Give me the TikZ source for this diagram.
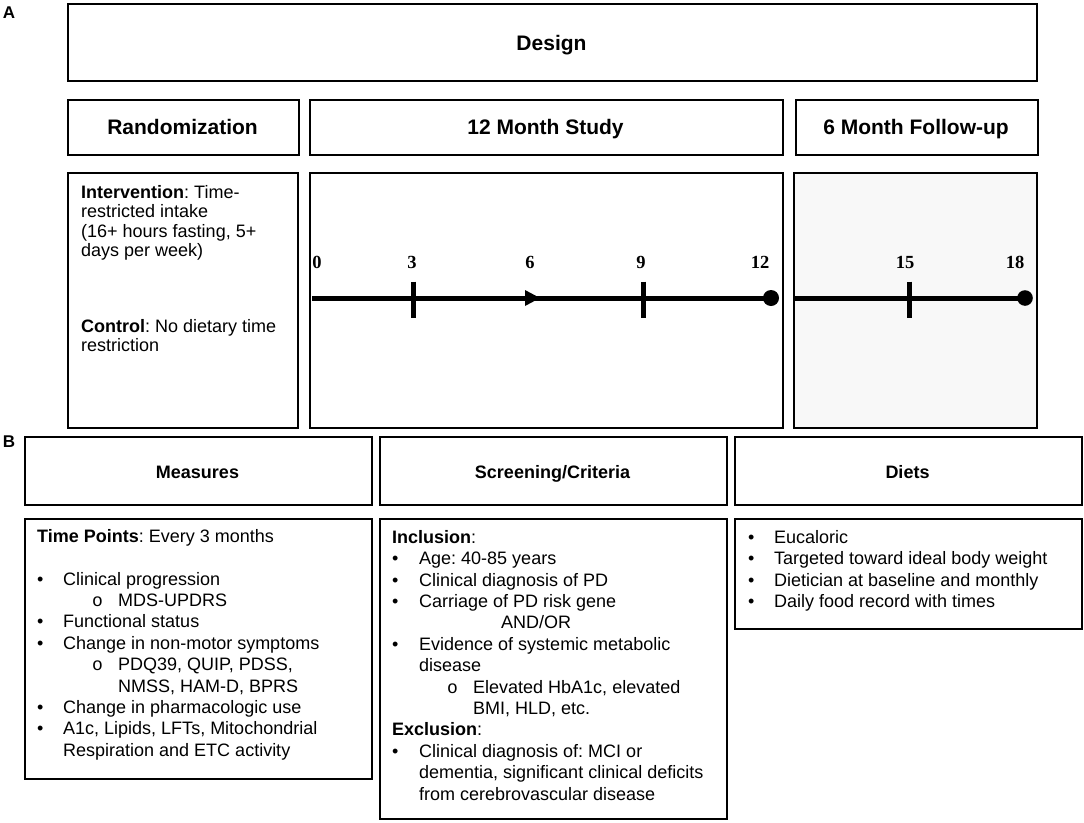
\documentclass[tikz,border=0pt]{standalone}
\usepackage{fontspec}
\setmainfont{Liberation Sans}
\newfontfamily\serifnum{Liberation Serif}
\newfontfamily\monoo{Liberation Mono}
\newcommand{\bl}[1][26pt]{\makebox[#1][l]{•}}
\newcommand{\sbl}[1][26pt]{\makebox[#1][l]{\monoo o}}
\definecolor{lightfill}{RGB}{248,248,248}
\frenchspacing
\begin{document}
\frenchspacing
\begin{tikzpicture}[x=1pt,y=-1pt,
  box/.style={draw=black, line width=2.3pt, inner sep=0pt, anchor=north west},
  bighead/.style={font=\bfseries\fontsize{21}{25}\selectfont, inner sep=0pt},
  smallhead/.style={font=\bfseries\fontsize{18}{21}\selectfont, inner sep=0pt},
  body/.style={font=\frenchspacing\fontsize{18}{21.4}\selectfont, align=left, inner sep=0pt, anchor=north west},
  ibody/.style={font=\frenchspacing\fontsize{18}{19.4}\selectfont, align=left, inner sep=0pt, anchor=north west},
  tl/.style={line width=5pt},
  tickmark/.style={line width=5pt},
  num/.style={font=\serifnum\bfseries\fontsize{18.5}{20}\selectfont, anchor=base, inner sep=0pt},
  lab/.style={font=\bfseries\fontsize{17}{20}\selectfont, inner sep=0pt}
]
\useasboundingbox (0,0) rectangle (1084,822);

% labels
\node[lab] (labA) at (9,12.5) {A};
\node[lab] (labB) at (9,442) {B};

% Section A boxes
\node[box, minimum width=969pt, minimum height=77pt] (design) at (67,3) {};
\node[box, minimum width=231pt, minimum height=55pt] (rand) at (67,99) {};
\node[box, minimum width=473pt, minimum height=55pt] (study) at (309,99) {};
\node[box, minimum width=242pt, minimum height=55pt] (follow) at (795,99) {};
\node[bighead, anchor=base] (designt) at (551.5,50) {Design};
\node[bighead, anchor=base] (randt) at (182.5,134.5) {Randomization};
\node[bighead, anchor=base] (studyt) at (545.5,134.5) {12 Month Study};
\node[bighead, anchor=base] (followt) at (916,134.5) {6 Month Follow-up};
\node[box, minimum width=230pt, minimum height=255pt] (interv) at (67,172) {};
\node[box, minimum width=473pt, minimum height=255pt] (studyb) at (309,172) {};
\node[box, fill=lightfill, minimum width=243pt, minimum height=255pt] (followb) at (793,172) {};

% Intervention text
\node[ibody] (intervtext) at (81,182) {\rule{0pt}{16pt}\textbf{Intervention}: Time-\\
restricted intake\\
(16+ hours fasting, 5+\\
days per week)};
\node[ibody] (ctrltext) at (81,316) {\rule{0pt}{16pt}\textbf{Control}: No dietary time\\
restriction};

% Timeline 12 month
\coordinate (t0) at (312,298);
\coordinate (t3) at (413,298);
\coordinate (t6) at (540,298);
\coordinate (t9) at (643,298);
\coordinate (t12) at (771,298);
\draw[tl] (t0) -- (t12);
\fill (t6) -- ++(-15,-8) -- ++(0,16) -- cycle;
\draw[tickmark] ([yshift=16.5pt]t3) -- ([yshift=-20pt]t3);
\draw[tickmark] ([yshift=16.5pt]t9) -- ([yshift=-20pt]t9);
\fill (t12) circle[radius=8pt];

% Timeline follow-up
\coordinate (f0) at (793,298);
\coordinate (f15) at (909,298);
\coordinate (f18) at (1025,298);
\draw[tl] (f0) -- (f18);
\draw[tickmark] ([yshift=16.5pt]f15) -- ([yshift=-20pt]f15);
\fill (f18) circle[radius=7.8pt];

% numbers
\node[num] (n0) at (317,268) {0};
\node[num] (n3) at (412,268) {3};
\node[num] (n6) at (530,268) {6};
\node[num] (n9) at (641,268) {9};
\node[num] (n12) at (760,268) {12};
\node[num] (n15) at (905,268) {15};
\node[num] (n18) at (1015,268) {18};

% Section B boxes
\node[box, minimum width=347pt, minimum height=68pt] (meas) at (24,436) {};
\node[box, minimum width=347pt, minimum height=68pt] (scr) at (379,436) {};
\node[box, minimum width=347pt, minimum height=68pt] (diet) at (734,436) {};
\node[smallhead, anchor=base] (meast) at (197.5,478) {Measures};
\node[smallhead, anchor=base] (scrt) at (552.5,478) {Screening/Criteria};
\node[smallhead, anchor=base] (diett) at (907.5,478) {Diets};
\node[box, minimum width=347pt, minimum height=260pt] (measb) at (24,518) {};
\node[box, minimum width=347pt, minimum height=300pt] (scrb) at (379,518) {};
\node[box, minimum width=347pt, minimum height=110pt] (dietb) at (734,518) {};

% Measures text
\node[body] (meastext) at (37,526) {\rule{0pt}{16pt}\textbf{Time Points}: Every 3 months\\[21.4pt]
\bl Clinical progression\\
\hspace*{55pt}\sbl MDS-UPDRS\\
\bl Functional status\\
\bl Change in non-motor symptoms\\
\hspace*{55pt}\sbl PDQ39, QUIP, PDSS,\\
\hspace*{81pt}NMSS, HAM-D, BPRS\\
\bl Change in pharmacologic use\\
\bl A1c, Lipids, LFTs, Mitochondrial\\
\hspace*{26pt}Respiration and ETC activity};

% Screening text
\node[body] (scrtext) at (392,527) {\rule{0pt}{16pt}\textbf{Inclusion}:\\
\bl[27pt]Age: 40-85 years\\
\bl[27pt]Clinical diagnosis of PD\\
\bl[27pt]Carriage of PD risk gene\\
\hspace*{109pt}AND/OR\\
\bl[27pt]Evidence of systemic metabolic\\
\hspace*{27pt}disease\\
\hspace*{55pt}\sbl Elevated HbA1c, elevated\\
\hspace*{81pt}BMI, HLD, etc.\\
\textbf{Exclusion}:\\
\bl[27pt]Clinical diagnosis of: MCI or\\
\hspace*{27pt}dementia, significant clinical deficits\\
\hspace*{27pt}from cerebrovascular disease};

% Diets text
\node[body] (diettext) at (748,527) {\rule{0pt}{16pt}\bl Eucaloric\\
\bl Targeted toward ideal body weight\\
\bl Dietician at baseline and monthly\\
\bl Daily food record with times};
\end{tikzpicture}
\end{document}
